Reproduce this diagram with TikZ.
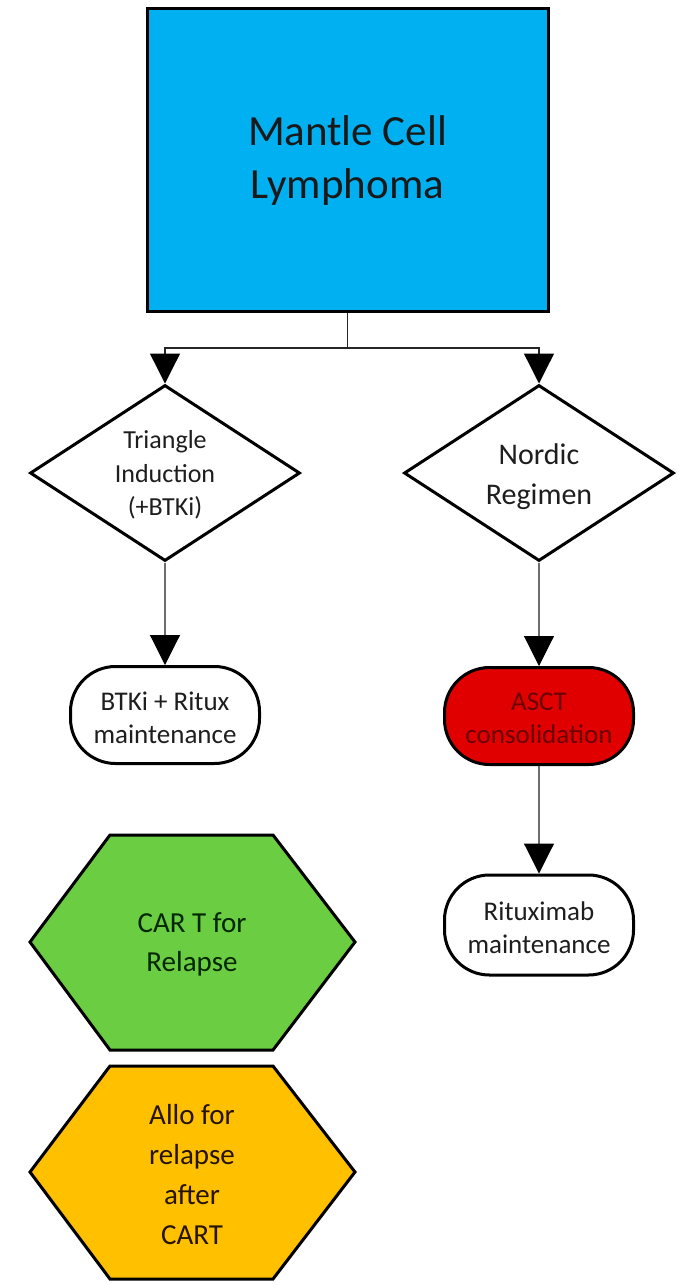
\documentclass[tikz,border=0pt]{standalone}
\usepackage{fontspec}
\setmainfont{Carlito}
\usetikzlibrary{shapes.geometric,arrows.meta}
\definecolor{mclblue}{HTML}{00B0F0}
\definecolor{ascred}{HTML}{E00000}
\definecolor{ascttext}{HTML}{6A0000}
\definecolor{cargreen}{HTML}{6ACD42}
\definecolor{allogold}{HTML}{FFC000}
\definecolor{txtdark}{HTML}{1E1E1E}
\definecolor{conngray}{HTML}{6E6E6E}
\begin{document}
\begin{tikzpicture}[x=1pt,y=-1pt,
  outline/.style={draw=black, line width=3pt},
  conn/.style={draw=conngray, line width=1.1pt},
  conntop/.style={draw=black!85, line width=1.3pt},
  tipped/.style={-{Triangle[width=30pt,length=30pt,color=black]}},
  dia/.style={shape=diamond, outline, fill=white, inner sep=0pt, minimum width=270pt, minimum height=176pt},
  pill/.style={shape=rectangle, outline, rounded corners=45pt, inner sep=0pt, minimum width=189pt, minimum height=97pt},
  lbl/.style={align=center, inner sep=0pt, text=txtdark}
]
\useasboundingbox (0,0) rectangle (680,1283);

% top box
\node[shape=rectangle, outline, fill=mclblue, minimum width=401pt, minimum height=303pt, inner sep=0pt] (mcl) at (347.5,159.5) {};
\node[lbl, font=\fontsize{43}{53}\selectfont, text=black!90] (mcltext) at (347.5,161) {Mantle Cell\\Lymphoma};

% diamonds
\node[dia] (tri) at (165,473) {};
\node[lbl, font=\fontsize{26}{33.5}\selectfont] (tritext) at (165,475) {Triangle\\Induction\\(+BTKi)};
\node[dia] (nordic) at (539,473) {};
\node[lbl, font=\fontsize{30}{40}\selectfont] (nordictext) at (539,477) {Nordic\\Regimen};

% pills
\node[pill, fill=white] (btki) at (165,715) {};
\node[lbl, font=\fontsize{27}{32.5}\selectfont] (btkitext) at (165,718) {BTKi + Ritux\\maintenance};
\node[pill, fill=ascred] (asct) at (539,716) {};
\node[lbl, font=\fontsize{27}{33}\selectfont, text=ascttext] (asctext) at (539,718) {ASCT\\consolidation};
\node[pill, fill=white, minimum height=100pt] (ritux) at (539,925) {};
\node[lbl, font=\fontsize{27}{33}\selectfont] (rituxtext) at (539,928) {Rituximab\\maintenance};

% hexagons
\draw[outline, fill=cargreen] (30,942) -- (110,835) -- (273,835) -- (355,942) -- (273,1050) -- (110,1050) -- cycle;
\node[lbl, font=\fontsize{29}{39}\selectfont, text=black!85!green] (cart) at (192,944) {CAR T for\\Relapse};
\draw[outline, fill=allogold] (30,1172) -- (110,1066) -- (273,1066) -- (355,1172) -- (273,1279) -- (110,1279) -- cycle;
\node[lbl, font=\fontsize{29}{40}\selectfont, text=black!85!orange] (allo) at (192,1175) {Allo for\\relapse\\after\\CART};

% connectors
\coordinate (split) at (347.5,348);
\draw[conntop] (mcl.south) -- (split);
\draw[conntop, tipped] (split) -| (tri.north);
\draw[conntop, tipped] (split) -| (nordic.north);
\draw[conn, tipped] (tri.south) -- (btki.north);
\draw[conn, tipped] (nordic.south) -- (asct.north);
\draw[conn, tipped] (asct.south) -- (ritux.north);
\end{tikzpicture}
\end{document}
